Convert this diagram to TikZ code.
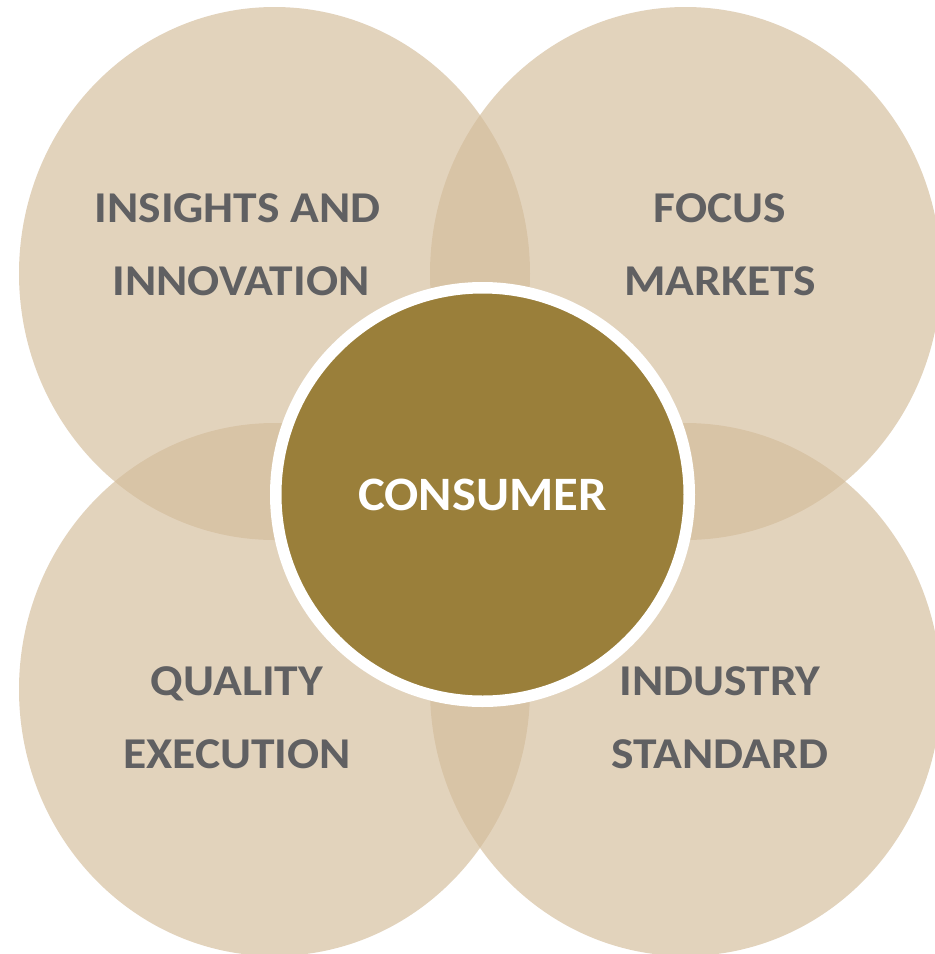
\documentclass[tikz,border=0pt]{standalone}
\usepackage{fontspec}
\setmainfont{Carlito}
\newfontfamily\tagfont[FakeStretch=1.08]{Carlito}
\newfontfamily\hubfont[FakeStretch=1.055]{Carlito}
\definecolor{petal}{RGB}{211,188,154}
\definecolor{hubfill}{RGB}{154,127,58}
\definecolor{labelgray}{RGB}{96,96,98}
\begin{document}
\begin{tikzpicture}[x=1pt,y=-1pt,
  petalshape/.style={fill=petal, fill opacity=0.66},
  hub/.style={circle, fill=hubfill, draw=white, line width=11.5pt,
    minimum size=413.5pt, inner sep=0pt, text=white,
    font=\hubfont\fontsize{48pt}{48pt}\selectfont\bfseries},
  tag/.style={text=labelgray, anchor=base, inner sep=0pt,
    font=\tagfont\fontsize{44pt}{44pt}\selectfont\bfseries}]
\useasboundingbox (0,0) rectangle (935,954);
% four overlapping petals
\fill[petalshape] (274.5,273.5) ellipse [x radius=255.5pt, y radius=266.5pt];
\fill[petalshape] (685.5,273.5) ellipse [x radius=255.5pt, y radius=266.5pt];
\fill[petalshape] (274.5,689.5) ellipse [x radius=255.5pt, y radius=266.5pt];
\fill[petalshape] (685.5,689.5) ellipse [x radius=255.5pt, y radius=266.5pt];
% central hub
\node[hub] (consumer) at (482.5,494.5) {CONSUMER};
% petal labels
\node[tag] (tl1) at (237.5,222) {INSIGHTS AND};
\node[tag] (tl2) at (241,295) {INNOVATION};
\node[tag] (tr1) at (720,222) {FOCUS};
\node[tag] (tr2) at (720,295) {MARKETS};
\node[tag] (bl1) at (237,695) {QUALITY};
\node[tag] (bl2) at (237,768) {EXECUTION};
\node[tag] (br1) at (720,695) {INDUSTRY};
\node[tag] (br2) at (720,768) {STANDARD};
\end{tikzpicture}
\end{document}
